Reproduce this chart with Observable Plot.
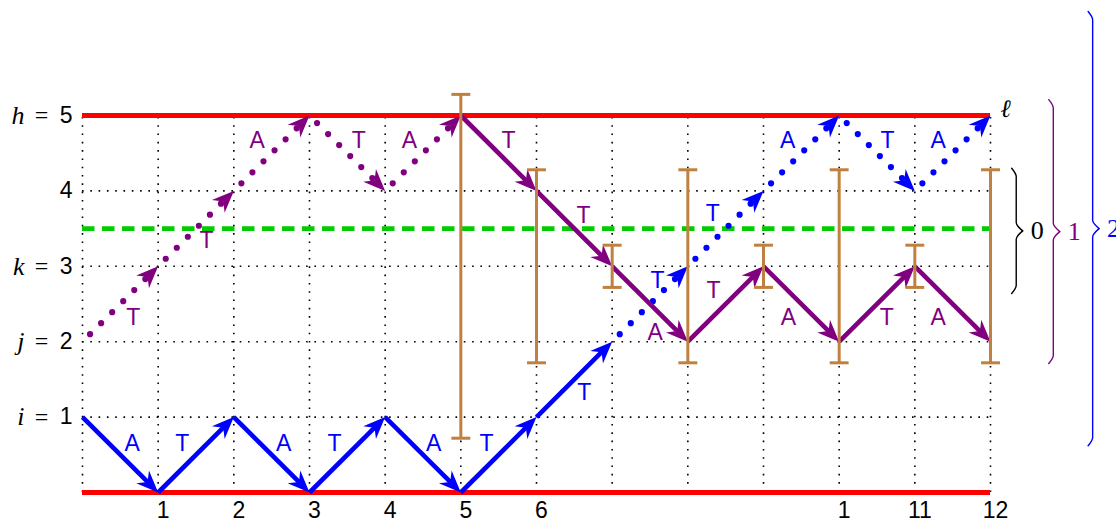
<!DOCTYPE html>
<html>
<head>
<meta charset="utf-8">
<script src="https://cdn.jsdelivr.net/npm/d3@7"></script>
<script src="https://cdn.jsdelivr.net/npm/@observablehq/plot@0.6"></script>
<style>
  body { margin: 0; background: #fff; }
  #chart svg { display: block; overflow: visible; }
</style>
</head>
<body>
<div id="chart"></div>
<script>
// ---------- data ----------
const xTicks = [1, 2, 3, 4, 5, 6, 10, 11, 12];
const xTickLabels = ["1", "2", "3", "4", "5", "6", "1", "11", "12"];
const yTicks = [1, 2, 3, 4, 5];
const yTickNames = ["i", "j", "k", "", "h"];
const gridX = [0, 1, 2, 3, 4, 5, 6, 7, 8, 9, 10, 11, 12];
const gridY = [0, 1, 2, 3, 4, 5];
const boundaryY = [0, 5];
const thresholdY = [3.5];

const blueSolidX = [0, 1, 2, 3, 4, 5, 6, 7];
const blueSolidY = [1, 0, 1, 0, 1, 0, 1, 2];
const blueSolidLabels = ["A", "T", "A", "T", "A", "T", "T"];
const blueSolidLabelX = [0.655, 1.32, 2.66, 3.33, 4.64, 5.34, 6.63];
const blueSolidLabelY = [0.65, 0.65, 0.65, 0.65, 0.65, 0.65, 1.33];

const blueDottedX = [7, 8, 9, 10, 11, 12];
const blueDottedY = [2, 3, 4, 5, 4, 5];
const blueDottedLabels = ["T", "T", "A", "T", "A"];
const blueDottedLabelX = [7.6, 8.33, 9.32, 10.64, 11.31];
const blueDottedLabelY = [2.81, 3.7, 4.67, 4.67, 4.67];

const purpleDottedX = [0, 1, 2, 3, 4, 5];
const purpleDottedY = [2, 3, 4, 5, 4, 5];
const purpleDottedLabels = ["T", "T", "A", "T", "A"];
const purpleDottedLabelX = [0.67, 1.64, 2.31, 3.65, 4.32];
const purpleDottedLabelY = [2.32, 3.34, 4.67, 4.67, 4.67];

const purpleSolidX = [5, 6, 7, 8, 9, 10, 11, 12];
const purpleSolidY = [5, 4, 3, 2, 3, 2, 3, 2];
const purpleSolidLabels = ["T", "T", "A", "T", "A", "T", "A"];
const purpleSolidLabelX = [5.63, 6.62, 7.57, 8.34, 9.33, 10.63, 11.31];
const purpleSolidLabelY = [4.67, 3.67, 2.12, 2.68, 2.32, 2.32, 2.32];

const errX = [5, 6, 7, 8, 9, 10, 11, 12];
const errLow = [0.72, 1.72, 2.72, 1.72, 2.72, 1.72, 2.72, 1.72];
const errHigh = [5.28, 4.28, 3.28, 4.28, 3.28, 4.28, 3.28, 4.28];

const braceLabels = ["0", "1", "2"];
const braceX = [12.34, 12.83, 13.35];
const braceTop = [4.3, 5.21, 6.38];
const braceBottom = [2.64, 1.71, 0.62];

const endLabel = ["ℓ"];

// ---------- styles ----------
const BLUE = "#0000ff", PURPLE = "#800080", RED = "#ff0000", GREEN = "#00cc00", BROWN = "#c08040";
const braceColors = ["#000000", PURPLE, BLUE];
const sansFont = "'Liberation Sans', Arial, Helvetica, sans-serif";
const serifFont = "'Liberation Serif', 'DejaVu Serif', serif";

// build segments from a path
function segments(xs, ys, labels, lx, ly) {
  return labels.map((label, i) => ({
    x1: xs[i], y1: ys[i], x2: xs[i + 1], y2: ys[i + 1],
    label, lx: lx[i], ly: ly[i]
  }));
}

const series = [
  {segs: segments(blueSolidX, blueSolidY, blueSolidLabels, blueSolidLabelX, blueSolidLabelY), color: BLUE, dotted: false},
  {segs: segments(blueDottedX, blueDottedY, blueDottedLabels, blueDottedLabelX, blueDottedLabelY), color: BLUE, dotted: true},
  {segs: segments(purpleDottedX, purpleDottedY, purpleDottedLabels, purpleDottedLabelX, purpleDottedLabelY), color: PURPLE, dotted: true},
  {segs: segments(purpleSolidX, purpleSolidY, purpleSolidLabels, purpleSolidLabelX, purpleSolidLabelY), color: PURPLE, dotted: false}
];

// stealth arrowhead symbol: tip at origin, pointing up
const stealth = {
  draw(ctx) {
    ctx.moveTo(0, 0);
    ctx.lineTo(9, 22);
    ctx.lineTo(0, 15);
    ctx.lineTo(-9, 22);
    ctx.closePath();
  }
};

const pathMarks = [];
const headMarks = [];
const labelMarks = [];
for (const s of series) {
  const t0 = s.dotted ? 0.1 : 0;
  const t1 = s.dotted ? 0.85 : 0.9;
  pathMarks.push(Plot.link(s.segs, {
    x1: d => d.x1 + (d.x2 - d.x1) * t0,
    y1: d => d.y1 + (d.y2 - d.y1) * t0,
    x2: d => d.x1 + (d.x2 - d.x1) * t1,
    y2: d => d.y1 + (d.y2 - d.y1) * t1,
    stroke: s.color,
    strokeWidth: s.dotted ? 6.2 : 4.6,
    strokeLinecap: s.dotted ? "round" : "butt",
    strokeDasharray: s.dotted ? "0 15.6" : null
  }));
  headMarks.push(Plot.dot(s.segs, {
    x: "x2", y: "y2",
    symbol: stealth, r: 1,
    fill: s.color, stroke: "none",
    rotate: d => Math.atan2(d.x2 - d.x1, d.y2 - d.y1) * 180 / Math.PI
  }));
  labelMarks.push(Plot.text(s.segs, {
    x: "lx", y: "ly", text: "label",
    fill: s.color, fontSize: 23, fontFamily: sansFont
  }));
}

// error bars
const errData = errX.map((x, i) => ({x, lo: errLow[i], hi: errHigh[i]}));
const CAP = 0.125;

// braces
const CURL = 0.11, HOOK = 0.06, TIP = 0.085;
const braceData = [];
braceLabels.forEach((lab, i) => {
  const X = braceX[i], top = braceTop[i], bot = braceBottom[i], mid = (top + bot) / 2;
  const up = [[X - HOOK, top], [X, top - CURL], [X, mid + CURL], [X + TIP, mid]];
  const lo = [[X + TIP, mid], [X, mid - CURL], [X, bot + CURL], [X - HOOK, bot]];
  up.forEach(([x, y]) => braceData.push({x, y, key: i + "u", i}));
  lo.forEach(([x, y]) => braceData.push({x, y, key: i + "l", i}));
});
const braceLabelData = braceLabels.map((label, i) => ({
  label, x: braceX[i] + TIP, y: (braceTop[i] + braceBottom[i]) / 2, i
}));

const yNameData = yTicks.map((y, i) => ({y, name: yTickNames[i]})).filter(d => d.name);

const chart = Plot.plot({
  width: 1116,
  height: 520,
  marginLeft: 82,
  marginRight: 126,
  marginTop: 115,
  marginBottom: 28,
  x: {domain: [0, 12]},
  y: {domain: [0, 5]},
  style: {fontFamily: sansFont, fontSize: "23px", color: "black", background: "white"},
  marks: [
    // dotted grid
    Plot.ruleX(gridX, {x: d => d, y1: () => 0, y2: () => 5, stroke: "black", strokeWidth: 1.6, strokeDasharray: "1.6 6.7"}),
    Plot.ruleY(gridY, {y: d => d, x1: () => 0, x2: () => 12, stroke: "black", strokeWidth: 1.6, strokeDasharray: "1.6 6.7"}),
    // boundaries
    Plot.ruleY(boundaryY, {y: d => d, x1: () => 0, x2: () => 12, stroke: RED, strokeWidth: 5}),
    Plot.ruleY(thresholdY, {y: d => d, x1: () => 0, x2: () => 12, stroke: GREEN, strokeWidth: 4.6, strokeDasharray: "12.5 7.5"}),
    ...pathMarks,
    ...headMarks,
    // error bars
    Plot.ruleX(errData, {x: "x", y1: "lo", y2: "hi", stroke: BROWN, strokeWidth: 3}),
    Plot.link(errData, {x1: d => d.x - CAP, x2: d => d.x + CAP, y1: "hi", y2: "hi", stroke: BROWN, strokeWidth: 3}),
    Plot.link(errData, {x1: d => d.x - CAP, x2: d => d.x + CAP, y1: "lo", y2: "lo", stroke: BROWN, strokeWidth: 3}),
    ...labelMarks,
    // braces
    ...braceColors.map((c, i) => Plot.line(braceData.filter(d => d.i === i), {
      x: "x", y: "y", z: "key", stroke: c, strokeWidth: 1.4, curve: "monotone-y"
    })),
    ...braceColors.map((c, i) => Plot.text(braceLabelData.filter(d => d.i === i), {
      x: "x", y: "y", text: "label", dx: 8, textAnchor: "start", fill: c, fontSize: 26, fontFamily: serifFont
    })),
    // end label
    Plot.text(endLabel, {x: () => 12, y: () => 5, text: d => d, dx: 15, dy: -7, fontStyle: "italic", fontSize: 25, fontFamily: serifFont}),
    // axes
    Plot.axisX(xTicks, {tickSize: 0, tickPadding: 9, dx: 5, fontSize: 23, label: null, tickFormat: d => xTickLabels[xTicks.indexOf(d)]}),
    Plot.axisY(yTicks, {tickSize: 0, tickPadding: 10, fontSize: 23, label: null, tickFormat: d => String(d)}),
    Plot.text(yNameData, {frameAnchor: "left", y: "y", text: () => "=", dx: -41, textAnchor: "middle", fontSize: 24, fontFamily: serifFont}),
    Plot.text(yNameData, {frameAnchor: "left", y: "y", text: "name", dx: -58, textAnchor: "end", fontStyle: "italic", fontSize: 26, fontFamily: serifFont})
  ]
});
document.getElementById("chart").appendChild(chart);
</script>
</body>
</html>
